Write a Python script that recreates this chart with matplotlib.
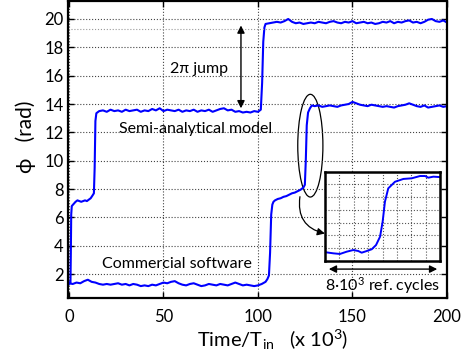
import matplotlib
matplotlib.use('Agg')
import matplotlib.pyplot as plt
from matplotlib.patches import Ellipse

plt.rcParams['font.family'] = ['Lato', 'DejaVu Sans']
plt.rcParams['mathtext.fontset'] = 'custom'
plt.rcParams['mathtext.rm'] = 'Lato'
plt.rcParams['mathtext.default'] = 'regular'

# semi-analytical model
semi_x = ([0, 0.4, 0.8, 1.0, 1.2, 1.5, 2.5, 3.5, 4.5, 5.5, 6.5, 7.5, 8.5, 9.5, 10.5,
           11.5, 12.5, 13.2, 13.6, 14.0, 14.5] + list(range(16, 101, 2))
          + [101.5, 102.2, 102.8, 103.4, 104] + list(range(106, 201, 2)))
semi_y = ([1.3, 1.4, 1.35, 3.5, 6.2, 6.8, 6.95, 7.1, 7.2, 7.15, 7.1, 7.15, 7.2, 7.15, 7.25,
           7.35, 7.55, 7.7, 9.5, 12.8, 13.35]
          + [13.5, 13.55, 13.45, 13.6, 13.5, 13.55, 13.45, 13.6, 13.5, 13.55,
             13.6, 13.45, 13.55, 13.5, 13.65, 13.55, 13.7, 13.5, 13.6, 13.55,
             13.5, 13.6, 13.45, 13.55, 13.5, 13.6, 13.45, 13.55, 13.5, 13.6,
             13.45, 13.55, 13.65, 13.7, 13.55, 13.6, 13.45, 13.5, 13.4, 13.45,
             13.4, 13.5, 13.45]
          + [13.6, 15.5, 18.4, 19.4, 19.65]
          + [19.7, 19.75, 19.8, 19.75, 19.85, 20.0, 19.8, 19.7, 19.75, 19.65,
             19.7, 19.75, 19.7, 19.8, 19.75, 19.7, 19.8, 19.85, 19.75, 19.7,
             19.8, 19.75, 19.85, 19.7, 19.75, 19.8, 19.7, 19.75, 19.65, 19.7,
             19.8, 19.75, 19.85, 19.7, 19.8, 19.75, 19.85, 19.9, 19.75, 19.8,
             19.7, 19.8, 19.95, 20.0, 19.85, 19.8, 19.9, 19.75])

# commercial software
comm_x = (list(range(0, 105, 2)) + [105, 105.8, 106.4, 107, 107.6, 108.2]
          + [109, 110.5, 112, 113.5, 115, 116.5, 118, 119.5, 121, 122.5, 124]
          + [124.8, 125.3, 125.8, 126.5, 127.5, 128.5] + list(range(130, 201, 2)))
comm_y = ([1.35, 1.3, 1.4, 1.35, 1.5, 1.6, 1.45, 1.4, 1.3, 1.25,
           1.3, 1.25, 1.3, 1.35, 1.25, 1.3, 1.2, 1.3, 1.25, 1.15,
           1.2, 1.15, 1.25, 1.2, 1.3, 1.4, 1.35, 1.45, 1.5, 1.35,
           1.25, 1.2, 1.3, 1.35, 1.25, 1.15, 1.2, 1.3, 1.25, 1.2,
           1.3, 1.25, 1.2, 1.3, 1.4, 1.3, 1.2, 1.25, 1.2, 1.15,
           1.2, 1.3, 1.45]
          + [1.65, 1.9, 3.5, 6.2, 6.9, 7.1]
          + [7.2, 7.3, 7.35, 7.45, 7.5, 7.6, 7.7, 7.75, 7.85, 7.95, 8.1]
          + [8.3, 10.0, 12.5, 13.4, 13.7, 13.9]
          + [13.85, 13.9, 13.8, 13.85, 13.9, 13.85, 13.8, 13.9, 13.95, 14.0,
             14.15, 14.05, 13.95, 13.9, 13.85, 13.95, 13.9, 13.85, 13.8, 13.85,
             13.8, 13.75, 13.85, 13.9, 13.95, 14.05, 13.95, 13.85, 13.8, 13.9,
             13.75, 13.8, 13.85, 13.9, 13.8, 13.85])

# zoomed jump (inset), 8e3 reference cycles
inset_x = [0, 0.07, 0.58, 1.04, 1.51, 1.97, 2.32, 2.55, 2.9, 3.25, 3.55, 3.83, 4.01,
           4.17, 4.4, 4.87, 5.45, 6.03, 6.61, 6.96, 7.19, 7.54, 7.95, 8]
inset_y = [0.66, 0.66, 0.58, 0.53, 0.71, 0.84, 0.76, 0.63, 0.76, 0.9, 1.23, 1.89, 3.07,
           4.64, 5.69, 6.21, 6.43, 6.48, 6.66, 6.66, 6.53, 6.61, 6.58, 6.58]

xticks = [0, 50, 100, 150, 200]
yticks = [2, 4, 6, 8, 10, 12, 14, 16, 18, 20]

fig = plt.figure(figsize=(4.74, 3.55), dpi=100)
ax = fig.add_axes([68 / 474, 1 - 298 / 355, 379 / 474, 297 / 355])

ax.plot(semi_x, semi_y, color='#0000ff', lw=1.5)
ax.plot(comm_x, comm_y, color='#0000ff', lw=1.5)

ax.set_xlim(-0.5, 200)
ax.set_ylim(0.31, 21.27)
ax.set_xticks(xticks)
ax.set_yticks(yticks)
ax.grid(True, linestyle=':', color='#444444', lw=0.8)
ax.axhline(19.3, linestyle=':', color='#999999', lw=0.8)
ax.tick_params(direction='in', top=True, right=True, labelsize=12, length=4, width=1)
ax.tick_params(axis='x', pad=8)
ax.tick_params(axis='y', pad=3)
for s in ax.spines.values():
    s.set_linewidth(1.6)

fig.text(25.5 / 474, 1 - 137 / 355, 'ϕ   (rad)', rotation=90, ha='center', va='center', fontsize=15)
fig.text(273 / 474, 1 - 340 / 355, 'Time/T$_{in}$   (x 10$^3$)', ha='center', va='center', fontsize=14.5)

ax.text(68.8, 16.5, '2π jump', ha='center', va='center', fontsize=11.5)
ax.text(67, 12.25, 'Semi-analytical model', ha='center', va='center', fontsize=11.5)
ax.text(57, 2.7, 'Commercial software', ha='center', va='center', fontsize=11.5)
ax.text(166, 1.2, '8·10$^3$ ref. cycles', ha='center', va='center', fontsize=11.5)

ax.annotate('', xy=(91, 19.74), xytext=(91, 13.5),
            arrowprops=dict(arrowstyle='<|-|>', color='black', lw=1, mutation_scale=11))
ax.annotate('', xy=(196.3, 2.35), xytext=(136, 2.35),
            arrowprops=dict(arrowstyle='<|-|>', color='black', lw=1, mutation_scale=11))
ax.add_patch(Ellipse((127.7, 11.06), 13.3, 7.25, fill=False, edgecolor='black', lw=0.9))
ax.annotate('', xy=(135.4, 4.86), xytext=(122.2, 7.46),
            arrowprops=dict(arrowstyle='-|>', color='black', lw=0.9, mutation_scale=11,
                            connectionstyle='arc3,rad=0.45', shrinkA=0, shrinkB=0))

ins = fig.add_axes([325 / 474, 1 - 260.7 / 355, 115 / 474, 89 / 355])
ins.plot(inset_x, inset_y, color='#0000ff', lw=1.4)
ins.set_xlim(0, 8)
ins.set_ylim(0, 7)
ins.set_xticks(range(1, 8))
ins.set_yticks(range(1, 7))
ins.grid(True, linestyle=':', color='#555555', lw=0.8)
ins.tick_params(length=0, labelbottom=False, labelleft=False)
for s in ins.spines.values():
    s.set_linewidth(1.8)

fig.savefig('out.png', dpi=100)
